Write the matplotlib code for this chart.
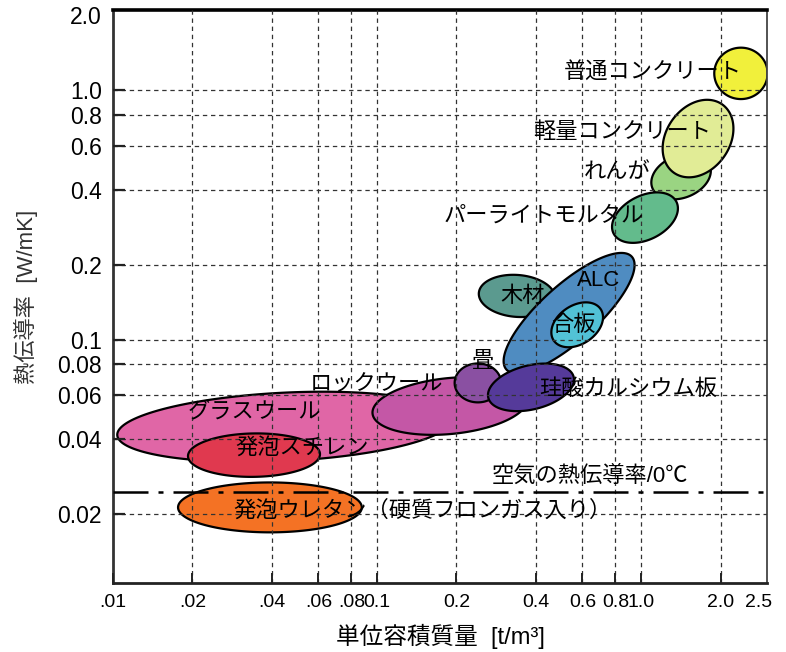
import numpy as np
import matplotlib
matplotlib.use("Agg")
import matplotlib.pyplot as plt
import matplotlib.transforms as mtransforms

plt.rcParams['font.family'] = ['Liberation Sans', 'Noto Sans CJK JP']

# materials: name, centre density [t/m3], centre conductivity [W/mK],
# semi-axes (in decades) and tilt of the log-log ellipse, fill colour
names = ['グラスウール', '発泡スチレン', '発泡ウレタン', 'ロックウール', '畳',
         '木材', 'ALC', '合板', '珪酸カルシウム板', 'れんが', 'パーライトモルタル',
         '軽量コンクリート', '普通コンクリート']
dens = [0.0448, 0.0342, 0.0393, 0.189, 0.241, 0.339, 0.534, 0.573, 0.383,
        1.418, 1.035, 1.644, 2.39]
cond = [0.0448, 0.0345, 0.0213, 0.0543, 0.0672, 0.150, 0.128, 0.1149, 0.0645,
        0.451, 0.309, 0.641, 1.17]
semi_a = [0.636, 0.250, 0.348, 0.295, 0.088, 0.145, 0.328, 0.109, 0.167,
          0.118, 0.135, 0.165, 0.101]
semi_b = [0.137, 0.087, 0.100, 0.112, 0.078, 0.084, 0.110, 0.076, 0.088,
          0.084, 0.087, 0.122, 0.103]
tilt = [3, 1, 0, 6, 0, -5, 44, 38, 15, 25, 30, 60, 0]
colors = ['#e066a6', '#e0394f', '#f47224', '#c457a6', '#8a50a2', '#5b9a8f',
          '#4f8cc1', '#52c2d6', '#553a9a', '#9ad482', '#63bb8c', '#e1ec96',
          '#f1f03b']

# label text and anchor (data coords)
labels = ['グラスウール', '発泡スチレン', '発泡ウレタン（硬質フロンガス入り）',
          'ロックウール', '畳', '木材', 'ALC', '合板', '珪酸カルシウム板',
          'れんが', 'パーライトモルタル', '軽量コンクリート', '普通コンクリート']
label_x = [0.0342, 0.052, 0.0285, 0.100, 0.252, 0.357, 0.693, 0.553, 0.893,
           0.811, 0.429, 0.847, 1.110]
label_y = [0.0509, 0.0365, 0.0206, 0.066, 0.0816, 0.149, 0.1726, 0.114, 0.063,
           0.469, 0.312, 0.678, 1.181]
label_ha = ['center', 'center', 'left', 'center', 'center', 'center', 'center',
            'center', 'center', 'center', 'center', 'center', 'center']

air_k = 0.0246
air_label = '空気の熱伝導率/0℃'
air_label_pos = (0.641, 0.0284)

xticks = [0.01, 0.02, 0.04, 0.06, 0.08, 0.1, 0.2, 0.4, 0.6, 0.8, 1.0, 2.0, 2.5]
xticklabels = ['.01', '.02', '.04', '.06', '.08', '0.1', '0.2', '0.4', '0.6',
               '0.8', '1.0', '2.0', '2.5']
yticks = [0.02, 0.04, 0.06, 0.08, 0.1, 0.2, 0.4, 0.6, 0.8, 1.0, 2.0]
yticklabels = ['0.02', '0.04', '0.06', '0.08', '0.1', '0.2', '0.4', '0.6',
               '0.8', '1.0', '2.0']

draw_order = ['グラスウール', '発泡スチレン', '発泡ウレタン', 'ロックウール', '畳',
              '木材', 'ALC', '合板', '珪酸カルシウム板', 'れんが',
              'パーライトモルタル', '軽量コンクリート', '普通コンクリート']


def log_ellipse(xc, yc, a, b, ang, n=240):
    t = np.linspace(0, 2 * np.pi, n)
    th = np.radians(ang)
    lx = np.log10(xc) + a * np.cos(t) * np.cos(th) - b * np.sin(t) * np.sin(th)
    ly = np.log10(yc) + a * np.cos(t) * np.sin(th) + b * np.sin(t) * np.cos(th)
    return 10 ** lx, 10 ** ly


fig = plt.figure(figsize=(7.86, 6.52), dpi=100)
ax = fig.add_axes([113 / 786, 1 - 583 / 652, 654 / 786, 573 / 652])
ax.set_xscale('log')
ax.set_yscale('log')
ax.set_xlim(0.01, 3.0)
ax.set_ylim(0.0106, 2.1)

for nm in draw_order:
    i = names.index(nm)
    ex, ey = log_ellipse(dens[i], cond[i], semi_a[i], semi_b[i], tilt[i])
    ax.fill(ex, ey, facecolor=colors[i], edgecolor='black', lw=1.6, zorder=1)

ax.axhline(air_k, color='black', lw=1.8, ls=(0, (14, 4, 2, 4)), zorder=3)
ax.text(*air_label_pos, air_label, ha='center', va='center', fontsize=16,
        zorder=4)

for txt, lx, ly, ha in zip(labels, label_x, label_y, label_ha):
    ax.text(lx, ly, txt, ha=ha, va='center', fontsize=16, zorder=4)

ax.set_xticks(xticks)
ax.set_xticklabels(xticklabels, fontsize=14,
                   family=['Liberation Sans Narrow', 'Liberation Sans'])
ax.set_yticks(yticks)
ax.set_yticklabels(yticklabels, fontsize=16.5)
ax.minorticks_off()
ax.tick_params(axis='x', direction='in', length=7, width=1.4, pad=8,
               color='#222')
ax.tick_params(axis='y', direction='in', length=8.5, width=1.6, pad=8,
               color='#222')

ax.set_axisbelow(False)
ax.grid(True, color='#333', lw=0.9, ls=(0, (3.5, 3)))
# the end labels sit on the frame: no tick mark or grid line there
for tk in (ax.xaxis.get_major_ticks()[-1], ax.yaxis.get_major_ticks()[-1]):
    tk.tick1line.set_visible(False)
    tk.gridline.set_visible(False)
ax.xaxis.get_major_ticks()[0].gridline.set_visible(False)
# nudge the last x label clear of "2.0"
last = ax.get_xticklabels()[-1]
last.set_transform(last.get_transform() +
                   mtransforms.ScaledTranslation(9 / 72, 0, fig.dpi_scale_trans))

ax.spines['top'].set_linewidth(2.6)
ax.spines['top'].set_color('black')
ax.spines['left'].set_linewidth(2.0)
ax.spines['left'].set_color('#333')
ax.spines['bottom'].set_linewidth(2.0)
ax.spines['bottom'].set_color('#222')
ax.spines['right'].set_linewidth(1.3)
ax.spines['right'].set_color('#444')

ax.set_xlabel('単位容積質量  [t/m³]', fontsize=17, labelpad=9)
ax.set_ylabel('熱伝導率  [W/mK]', fontsize=16, color='#333', labelpad=14)

fig.savefig('out.png', dpi=100, facecolor='white')
